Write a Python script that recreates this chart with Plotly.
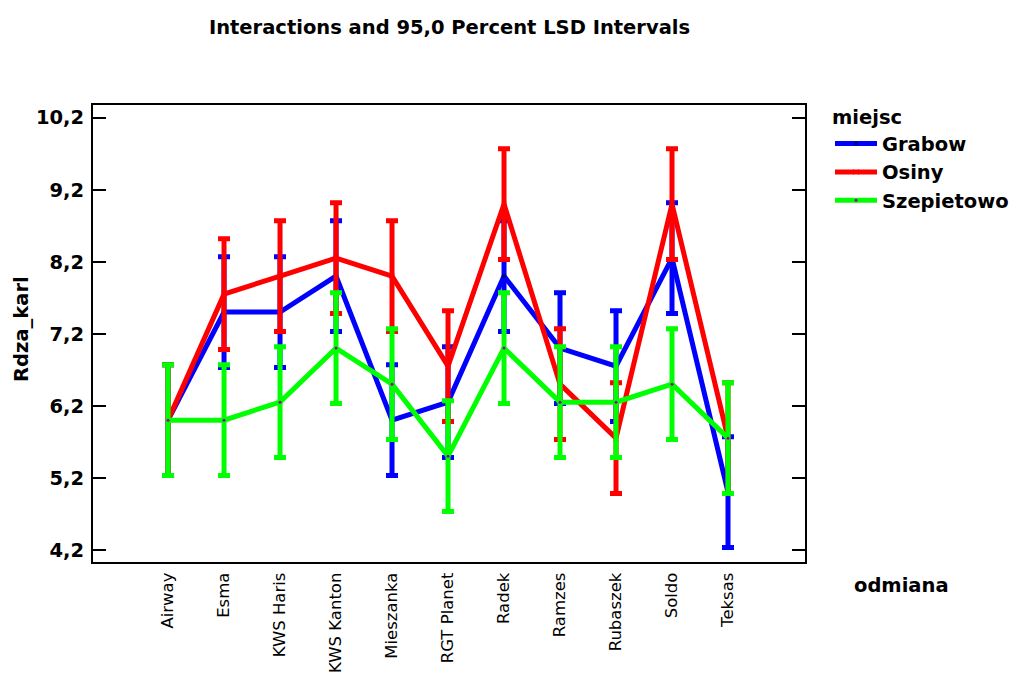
import plotly.graph_objects as go

# Varieties (odmiana) on the x axis
odmiana = ["Airway", "Esma", "KWS Haris", "KWS Kanton", "Mieszanka", "RGT Planet",
           "Radek", "Ramzes", "Rubaszek", "Soldo", "Teksas"]

# Cell means of Rdza_karl for each location (miejsc)
grabow = [6.0, 7.5, 7.5, 8.0, 6.0, 6.25, 8.0, 7.0, 6.75, 8.25, 5.0]
osiny = [6.0, 7.75, 8.0, 8.25, 8.0, 6.75, 9.0, 6.5, 5.75, 9.0, 5.75]
szepietowo = [6.0, 6.0, 6.25, 7.0, 6.5, 5.5, 7.0, 6.25, 6.25, 6.5, 5.75]

# Half-width of the 95% LSD interval around each mean
lsd_half = 0.77

# y axis ticks (decimal comma labels)
y_ticks = [4.2, 5.2, 6.2, 7.2, 8.2, 9.2, 10.2]
y_tick_labels = ["4,2", "5,2", "6,2", "7,2", "8,2", "9,2", "10,2"]

BOLD = "DejaVu Sans, Verdana, sans-serif"
REG = "DejaVu Sans, Verdana, sans-serif"

W, H = 1019, 677

series = [
    ("Grabow", grabow, "#0000ff", dict(symbol="square", size=4, color="#000090")),
    ("Osiny", osiny, "#ff0000", dict(symbol="x-thin-open", size=5,
                                    line=dict(color="#a00000", width=1))),
    ("Szepietowo", szepietowo, "#00ff00", dict(symbol="circle", size=3, color="#a000a0")),
]

fig = go.Figure()
for name, vals, color, marker in series:
    fig.add_trace(go.Scatter(
        x=odmiana, y=vals, name=name, mode="lines+markers",
        line=dict(color=color, width=5),
        marker=marker,
        error_y=dict(type="constant", value=lsd_half, color=color,
                     thickness=5, width=6),
    ))

fig.update_layout(
    width=W, height=H,
    margin=dict(l=93, r=214, t=105, b=115, autoexpand=False),
    paper_bgcolor="white", plot_bgcolor="white",
    font=dict(family=REG, color="black"),
    title=dict(text="Interactions and 95,0 Percent LSD Intervals",
               x=449.5 / W, xanchor="center", xref="container",
               y=1 - 27 / H, yanchor="middle", yref="container",
               font=dict(family=BOLD, size=19.5, weight="bold", color="black")),
    showlegend=True,
    legend=dict(
        title=dict(text="miejsc", font=dict(family=BOLD, size=19.5, weight="bold")),
        font=dict(family=BOLD, size=19.5, weight="bold", color="black"),
        xref="container", yref="container",
        x=830 / W, xanchor="left", y=1 - 99 / H, yanchor="top",
        itemwidth=42,
        bgcolor="rgba(0,0,0,0)", tracegroupgap=0,
    ),
)

fig.update_xaxes(
    type="category", range=[-1.34, 11.375], automargin=False,
    showline=True, linecolor="black", linewidth=2, mirror=True,
    ticks="", showgrid=False, zeroline=False,
    tickangle=-90, tickfont=dict(family=REG, size=16.5, color="black"),
    ticklabelstandoff=2,
)
fig.update_yaxes(
    range=[4.03, 10.376], automargin=False,
    tickvals=y_ticks, ticktext=y_tick_labels,
    showline=True, linecolor="black", linewidth=2, mirror="ticks",
    ticks="inside", ticklen=13, tickwidth=2, tickcolor="black",
    showgrid=False, zeroline=False,
    tickfont=dict(family=BOLD, size=19.5, weight="bold", color="black"),
    ticklabelstandoff=3,
)

fig.add_annotation(text="Rdza_karl", xref="paper", yref="paper",
                   x=(22 - 93) / 712, y=0.51, xanchor="center", yanchor="middle",
                   textangle=-90, showarrow=False,
                   font=dict(family=BOLD, size=19.5, weight="bold", color="black"))
fig.add_annotation(text="odmiana", xref="paper", yref="paper",
                   x=(901 - 93) / 712, y=(562 - 585) / 457,
                   xanchor="center", yanchor="middle", showarrow=False,
                   font=dict(family=BOLD, size=19.5, weight="bold", color="black"))

fig.write_html("out.html")
